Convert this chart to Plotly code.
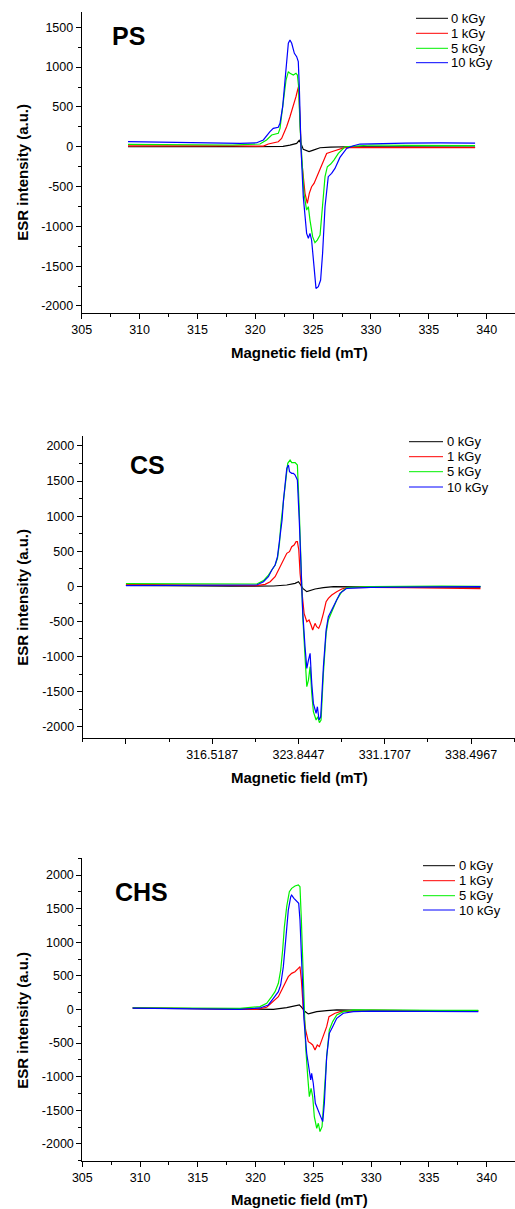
import plotly.graph_objects as go

W, H = 515, 1209
FONT = "Arial, Liberation Sans, sans-serif"

SERIES_NAMES = ["0 kGy", "1 kGy", "5 kGy", "10 kGy"]
SERIES_COLORS = ["#000000", "#ff0000", "#00f000", "#0000ff"]
PANEL_LABELS = ["PS", "CS", "CHS"]
X_TITLE = "Magnetic field (mT)"
Y_TITLE = "ESR intensity (a.u.)"

# ---------------- PS ----------------
PS_0_X = [309.0, 312, 315, 318, 320.0, 322.4, 323.0, 323.58, 323.8, 323.95, 324.15, 324.44, 324.65,
          325.02, 325.6, 326.5, 328, 330, 333, 336, 339.0]
PS_0_Y = [0, 3, -3, 2, 0, 5, 21, 42, 80, 42, -33, -50, -62, -42, -13, -5, 0, -3, -5, -8, -5]

PS_1_X = [309.0, 312, 315, 318, 320.70, 321.13, 321.56, 321.99, 322.28, 322.71, 323.0, 323.29, 323.52,
          323.64, 323.75, 323.87, 324.01, 324.30, 324.50, 324.67, 324.87, 325.08, 325.31, 325.60, 325.88,
          326.17, 326.60, 327.18, 327.76, 329, 332, 336, 339]
PS_1_Y = [12, 15, 12, 10, 8, 34, 51, 63, 105, 252, 377, 503, 629, 700, 760, 335, -167, -585, -711, -585,
          -502, -460, -377, -293, -167, -84, -63, -33, -8, -10, -12, -15, -12]

PS_5_X = [309.0, 312, 315, 318, 320.41, 320.98, 321.42, 321.99, 322.14, 322.43, 322.66, 322.86, 323.00,
          323.29, 323.52, 323.64, 323.75, 323.87, 324.01, 324.21, 324.44, 324.59, 324.73, 324.96, 325.16,
          325.36, 325.60, 325.82, 326.03, 326.23, 326.52, 326.80, 327.18, 327.76, 328.48, 330, 333, 336, 339]
PS_5_Y = [30, 28, 25, 22, 34, 85, 147, 168, 231, 545, 838, 943, 922, 901, 922, 901, 754, 252, -167, -585,
          -795, -753, -921, -1130, -1205, -1172, -1109, -753, -376, -251, -217, -167, -84, 0, 8, 22, 18, 16, 15]

PS_10_X = [309.0, 312, 315, 318.68, 320.12, 320.70, 321.27, 321.56, 321.99, 322.14, 322.37, 322.57, 322.71,
           322.86, 323.00, 323.15, 323.38, 323.58, 323.72, 323.81, 323.95, 324.15, 324.44, 324.59, 324.73,
           324.87, 325.08, 325.25, 325.45, 325.65, 325.82, 326.03, 326.31, 326.60, 326.89, 327.32, 327.90,
           328.48, 329.05, 330.78, 333, 336, 339]
PS_10_Y = [65, 60, 52, 42, 50, 85, 189, 231, 244, 294, 503, 838, 1131, 1299, 1340, 1299, 1173, 1131, 1068,
           754, 0, -627, -1088, -1150, -1088, -1171, -1506, -1779, -1758, -1674, -1339, -753, -376, -334,
           -272, -134, -21, 13, 34, 42, 45, 48, 45]

# ---------------- CS ----------------
CS_0_X = [309.19, 312, 315, 318, 321.72, 322.85, 323.56, 323.84, 323.98, 324.21, 324.55, 324.83, 325.25,
          325.96, 326.81, 329, 332, 335, 339.3]
CS_0_Y = [12, 8, 5, 3, 5, 19, 43, 66, 33, -29, -76, -62, -38, -19, -5, -8, -10, -12, -10]

CS_1_X = [309.19, 312, 315, 318, 320.30, 321.01, 321.44, 321.86, 322.23, 322.57, 322.85, 323.08, 323.27,
          323.47, 323.64, 323.75, 323.87, 323.98, 324.12, 324.32, 324.55, 324.74, 324.91, 325.05, 325.25,
          325.39, 325.56, 325.73, 325.96, 326.19, 326.38, 326.67, 327.09, 327.52, 327.94, 330, 333, 336, 339.3]
CS_1_Y = [28, 22, 18, 12, 10, 29, 66, 137, 256, 375, 470, 494, 565, 589, 636, 636, 518, 185, -100, -385,
          -504, -480, -551, -623, -528, -575, -599, -528, -385, -219, -171, -124, -76, -38, -19, -15, -20,
          -25, -32]

CS_5_X = [309.19, 312, 315, 318.89, 320.30, 320.87, 321.29, 321.58, 321.86, 322.06, 322.23, 322.34, 322.57,
          322.76, 322.93, 323.13, 323.27, 323.56, 323.75, 323.90, 324.04, 324.21, 324.40, 324.55, 324.69,
          324.83, 324.97, 325.11, 325.34, 325.48, 325.62, 325.76, 325.96, 326.19, 326.38, 326.67, 327.09,
          327.52, 327.94, 330, 333, 336, 339.3]
CS_5_Y = [40, 38, 32, 24, 33, 81, 161, 233, 304, 399, 613, 874, 1230, 1563, 1753, 1800, 1762, 1762, 1729,
          1135, 280, -433, -1003, -1430, -1335, -1145, -1525, -1786, -1905, -1858, -1943, -1905, -1240,
          -670, -480, -361, -195, -76, -19, -5, 0, 2, -2]

CS_10_X = [309.19, 312, 315, 318.89, 320.30, 320.87, 321.29, 321.58, 321.86, 322.06, 322.23, 322.34, 322.45,
           322.57, 322.71, 322.85, 322.99, 323.08, 323.27, 323.41, 323.56, 323.75, 323.92, 324.07, 324.21,
           324.40, 324.55, 324.69, 324.83, 324.97, 325.11, 325.34, 325.45, 325.59, 325.73, 325.96, 326.19,
           326.38, 326.67, 326.95, 327.37, 327.94, 330, 333, 336, 339.3]
CS_10_Y = [10, 12, 10, 10, 19, 66, 137, 233, 304, 423, 660, 850, 945, 1230, 1515, 1681, 1729, 1634, 1610,
           1610, 1586, 1515, 898, 185, -385, -860, -1169, -1050, -955, -1383, -1668, -1810, -1715, -1905,
           -1858, -1145, -623, -433, -338, -243, -100, -29, -15, -10, -8, -5]

# ---------------- CHS ----------------
CHS_0_X = [309.36, 312, 315, 318, 321.54, 322.69, 323.41, 323.79, 323.99, 324.28, 324.56, 324.85, 325.29,
           326.15, 327.02, 330, 333, 336, 339.27]
CHS_0_Y = [20, 15, 10, 5, 2, 27, 52, 67, 32, -32, -67, -57, -32, -17, -7, -12, -15, -18, -20]

CHS_1_X = [309.36, 312, 315, 318, 320.09, 320.96, 321.54, 321.97, 322.26, 322.55, 322.83, 323.12, 323.41,
           323.70, 323.84, 323.96, 324.13, 324.33, 324.56, 324.77, 324.94, 325.14, 325.34, 325.52, 325.72,
           325.92, 326.15, 326.35, 326.58, 326.87, 327.31, 330, 333, 336, 339.27]
CHS_1_Y = [25, 20, 10, 5, 2, 32, 116, 190, 290, 389, 488, 537, 562, 612, 637, 438, -8, -305, -479, -504,
           -528, -603, -528, -553, -454, -355, -256, -107, -82, -57, -32, -15, -18, -20, -22]

CHS_5_X = [309.36, 312, 315, 318.65, 320.38, 320.96, 321.39, 321.68, 321.97, 322.17, 322.34, 322.49, 322.69,
           322.92, 323.12, 323.41, 323.70, 323.84, 323.96, 324.13, 324.33, 324.51, 324.65, 324.80, 324.94,
           325.08, 325.29, 325.43, 325.57, 325.75, 325.92, 326.15, 326.38, 326.67, 327.02, 327.59, 328.46,
           330, 333, 336, 339.27]
CHS_5_Y = [25, 20, 15, 17, 42, 91, 190, 265, 389, 587, 884, 1231, 1529, 1752, 1801, 1836, 1851, 1826, 1330,
           438, -553, -999, -1297, -1173, -1297, -1594, -1768, -1693, -1817, -1743, -1297, -702, -305, -181,
           -82, -32, -7, -10, -12, -15, -15]

CHS_10_X = [309.36, 312, 315, 318.65, 320.38, 321.10, 321.54, 321.97, 322.17, 322.40, 322.63, 322.83, 323.04,
            323.12, 323.32, 323.55, 323.73, 323.84, 323.99, 324.19, 324.42, 324.62, 324.77, 324.85, 324.99,
            325.17, 325.43, 325.63, 325.81, 325.95, 326.15, 326.38, 326.67, 327.02, 327.59, 328.46, 330, 333,
            336, 339.27]
CHS_10_Y = [20, 15, 10, 2, 22, 67, 166, 265, 364, 637, 1083, 1479, 1677, 1702, 1653, 1603, 1578, 1330, 587,
            -156, -652, -900, -1049, -950, -1098, -1396, -1495, -1594, -1668, -1396, -702, -355, -256, -132,
            -57, -32, -25, -28, -30, -33]

# tick labels
X_TICKS_STD = [305, 310, 315, 320, 325, 330, 335, 340]
X_TICKS_CS = [309.1927, 316.5187, 323.8447, 331.1707, 338.4967]
X_TICKTEXT_CS = ["", "316.5187", "323.8447", "331.1707", "338.4967"]
Y_TICKS_PS = [-2000, -1500, -1000, -500, 0, 500, 1000, 1500]
Y_TICKS_CS = [-2000, -1500, -1000, -500, 0, 500, 1000, 1500, 2000]
Y_TICKS_CHS = [-2000, -1500, -1000, -500, 0, 500, 1000, 1500, 2000]

PANELS = [
    dict(series=[(PS_0_X, PS_0_Y), (PS_1_X, PS_1_Y), (PS_5_X, PS_5_Y), (PS_10_X, PS_10_Y)],
         xticks=X_TICKS_STD, xtext=[str(v) for v in X_TICKS_STD], xminor=(305, 2.5),
         yticks=Y_TICKS_PS, xrange=[305, 342.45], yrange=[-2088, 1692],
         dom_x=81.7, dom_y=(12, 313), ytitle_y=172, xtitle_y=352,
         label_xy=(112, 36), leg=(416, 448, 451, [18.3, 33.3, 48.3, 62.7])),
    dict(series=[(CS_0_X, CS_0_Y), (CS_1_X, CS_1_Y), (CS_5_X, CS_5_Y), (CS_10_X, CS_10_Y)],
         xticks=X_TICKS_CS, xtext=X_TICKTEXT_CS, xminor=(309.1927, 3.663),
         yticks=Y_TICKS_CS, xrange=[305.52, 342.23], yrange=[-2161, 2142],
         dom_x=82.7, dom_y=(436, 738), ytitle_y=597, xtitle_y=777,
         label_xy=(130, 465), leg=(409, 443, 446.5, [441.7, 456.7, 471.7, 487.0])),
    dict(series=[(CHS_0_X, CHS_0_Y), (CHS_1_X, CHS_1_Y), (CHS_5_X, CHS_5_Y), (CHS_10_X, CHS_10_Y)],
         xticks=X_TICKS_STD, xtext=[str(v) for v in X_TICKS_STD], xminor=(305, 2.5),
         yticks=Y_TICKS_CHS, xrange=[305, 342.45], yrange=[-2250, 2253],
         dom_x=82.3, dom_y=(858, 1160.7), ytitle_y=1020, xtitle_y=1199,
         label_xy=(115, 892), leg=(423, 455, 459, [865.7, 880.7, 895.7, 910.0])),
]


def px(xp):
    return xp / W


def py(yp):
    return 1 - yp / H


fig = go.Figure()
shapes = []
annotations = []
layout = dict(width=W, height=H, margin=dict(l=0, r=0, t=0, b=0, pad=0, autoexpand=False),
              paper_bgcolor="white", plot_bgcolor="white", showlegend=False,
              font=dict(family=FONT, color="black"))

for p, panel in enumerate(PANELS):
    k = "" if p == 0 else str(p + 1)
    xa, ya = "x" + k, "y" + k
    for (sx, sy), name, col in zip(panel["series"], SERIES_NAMES, SERIES_COLORS):
        fig.add_trace(go.Scatter(x=sx, y=sy, mode="lines", name=name,
                                 line=dict(color=col, width=1.2), xaxis=xa, yaxis=ya))
    common = dict(showline=True, linecolor="black", linewidth=1, ticks="outside", ticklen=5,
                  tickwidth=1, tickcolor="black", showgrid=False, zeroline=False, automargin=False,
                  tickfont=dict(family=FONT, size=12.5, color="black"))
    layout["xaxis" + k] = dict(
        common, domain=[px(panel["dom_x"]), 1.0], range=panel["xrange"], anchor=ya,
        tickmode="array", tickvals=panel["xticks"], ticktext=panel["xtext"],
        minor=dict(tickmode="linear", tick0=panel["xminor"][0], dtick=panel["xminor"][1],
                   ticks="outside", ticklen=3, tickcolor="black", showgrid=False))
    layout["yaxis" + k] = dict(
        common, domain=[py(panel["dom_y"][1]), py(panel["dom_y"][0])], range=panel["yrange"],
        anchor=xa, tickmode="array", tickvals=panel["yticks"],
        ticktext=[str(v) for v in panel["yticks"]],
        minor=dict(tickmode="linear", tick0=0, dtick=250, ticks="outside", ticklen=3,
                   tickcolor="black", showgrid=False))
    # axis titles
    annotations.append(dict(text="<b>%s</b>" % X_TITLE, xref="paper", yref="paper", x=px(299),
                            y=py(panel["xtitle_y"]), xanchor="center", yanchor="middle",
                            showarrow=False, font=dict(family=FONT, size=15, color="black")))
    annotations.append(dict(text="<b>%s</b>" % Y_TITLE, xref="paper", yref="paper", x=px(21.7),
                            y=py(panel["ytitle_y"]), xanchor="center", yanchor="middle",
                            textangle=-90, showarrow=False,
                            font=dict(family=FONT, size=15, color="black")))
    # panel label
    lx, ly = panel["label_xy"]
    annotations.append(dict(text="<b>%s</b>" % PANEL_LABELS[p], xref="paper", yref="paper",
                            x=px(lx - 2), y=py(ly), xanchor="left", yanchor="middle",
                            showarrow=False, font=dict(family=FONT, size=25, color="black")))
    # legend
    x0, x1, tx, rows = panel["leg"]
    for name, col, ry in zip(SERIES_NAMES, SERIES_COLORS, rows):
        shapes.append(dict(type="line", xref="paper", yref="paper", x0=px(x0), x1=px(x1),
                           y0=py(ry), y1=py(ry), line=dict(color=col, width=1)))
        annotations.append(dict(text=name, xref="paper", yref="paper", x=px(tx - 2), y=py(ry),
                                xanchor="left", yanchor="middle", showarrow=False,
                                font=dict(family=FONT, size=13, color="black")))

layout["shapes"] = shapes
layout["annotations"] = annotations
fig.update_layout(**layout)
fig.write_html("out.html", config={"displayModeBar": False},
               post_script="document.body.style.margin='0px';document.body.style.overflow='hidden';")
